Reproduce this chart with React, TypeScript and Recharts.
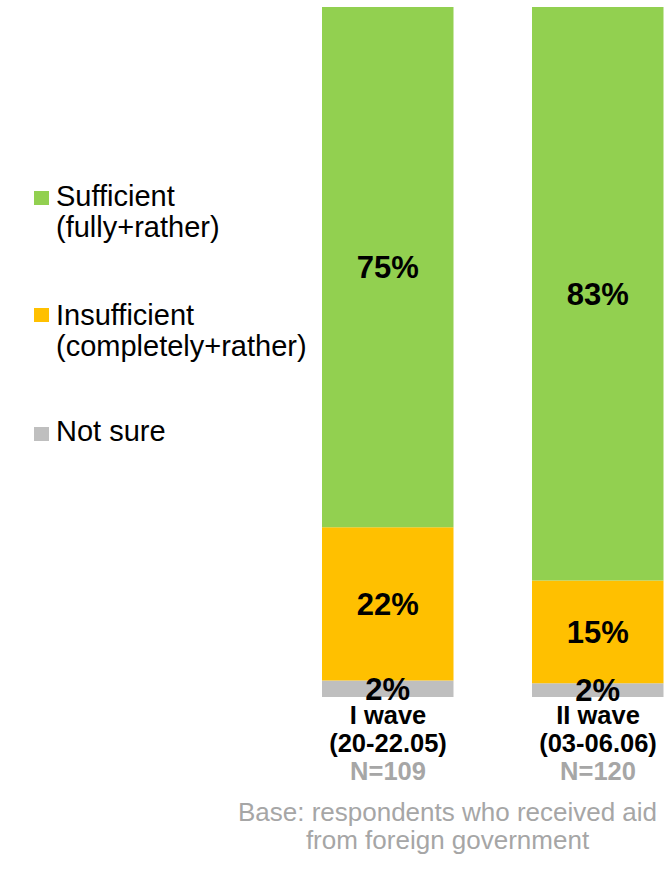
import React from 'react';
import { BarChart, Bar, XAxis, YAxis, Legend, LabelList } from 'recharts';

const waves = ['I wave', 'II wave'];
const waveDates = ['(20-22.05)', '(03-06.06)'];
const waveN = ['N=109', 'N=120'];
const sufficient = [75.4, 83.1];
const insufficient = [22.2, 14.9];
const notSure = [2.4, 2.0];
const legendLabels = [
  ['Sufficient', '(fully+rather)'],
  ['Insufficient', '(completely+rather)'],
  ['Not sure'],
];
const colors = ['#92D050', '#FFC000', '#BFBFBF'];
const footerLines = ['Base: respondents who received aid', 'from foreign government'];

const data = waves.map((w, i) => ({
  wave: w,
  dates: waveDates[i],
  n: waveN[i],
  sufficient: sufficient[i],
  insufficient: insufficient[i],
  notSure: notSure[i],
}));

const FONT = '"Liberation Sans", Arial, sans-serif';

const WaveTick = (props: any) => {
  const { x, y, payload, index } = props;
  const i = typeof index === 'number' ? index : waves.indexOf(payload.value);
  return (
    <g transform={`translate(${x},${y})`}>
      <text x={0} y={27} textAnchor="middle" fontFamily={FONT} fontWeight="bold" fontSize={25.5} fill="#000">
        {payload.value}
      </text>
      <text x={0} y={55} textAnchor="middle" fontFamily={FONT} fontWeight="bold" fontSize={25.5} fill="#000">
        {waveDates[i]}
      </text>
      <text x={0} y={83} textAnchor="middle" fontFamily={FONT} fontWeight="bold" fontSize={25.5} fill="#A6A6A6">
        {waveN[i]}
      </text>
    </g>
  );
};

const ValueLabel = (props: any) => {
  const { x, y, width, height, value } = props;
  const cx = Number(x) + Number(width) / 2;
  const cy = Number(y) + Number(height) / 2;
  return (
    <text
      x={cx}
      y={cy + 11}
      textAnchor="middle"
      fontFamily={FONT}
      fontWeight="bold"
      fontSize={31}
      fill="#000"
    >
      {`${Math.round(Number(value))}%`}
    </text>
  );
};

const legendTops = [181.2, 299.5, 416.2];
const squareTops = [190.7, 308.3, 426.7];

const LegendContent = () => (
  <div style={{ position: 'relative', width: 340, height: 470 }}>
    {legendLabels.map((lines, k) => (
      <React.Fragment key={k}>
        <div
          style={{
            position: 'absolute',
            left: 34,
            top: squareTops[k],
            width: 15,
            height: 14,
            background: colors[k],
          }}
        />
        <div
          style={{
            position: 'absolute',
            left: 56,
            top: legendTops[k],
            fontFamily: FONT,
            fontSize: 29,
            lineHeight: '31px',
            color: '#000',
            whiteSpace: 'nowrap',
          }}
        >
          {lines.map((l, j) => (
            <div key={j}>{l}</div>
          ))}
        </div>
      </React.Fragment>
    ))}
  </div>
);

export default function App() {
  return (
    <div
      style={{
        position: 'absolute',
        left: 0,
        top: 0,
        width: 667,
        height: 871,
        overflow: 'hidden',
        background: '#fff',
      }}
    >
      <BarChart
        width={703}
        height={871}
        data={data}
        margin={{ top: 7, right: 0, bottom: 74, left: 283 }}
        barSize={131.5}
      >
        <XAxis
          dataKey="wave"
          axisLine={false}
          tickLine={false}
          tickSize={0}
          tickMargin={0}
          height={100}
          interval={0}
          tick={<WaveTick />}
        />
        <YAxis hide domain={[0, 100]} />
        <Legend
          layout="horizontal"
          verticalAlign="middle"
          align="center"
          wrapperStyle={{ position: 'absolute', left: 0, top: 0, width: 340, height: 470, margin: 0 }}
          content={<LegendContent />}
        />
        <Bar dataKey="notSure" stackId="a" fill={colors[2]} isAnimationActive={false}>
          <LabelList dataKey="notSure" content={<ValueLabel />} />
        </Bar>
        <Bar dataKey="insufficient" stackId="a" fill={colors[1]} isAnimationActive={false}>
          <LabelList dataKey="insufficient" content={<ValueLabel />} />
        </Bar>
        <Bar dataKey="sufficient" stackId="a" fill={colors[0]} isAnimationActive={false}>
          <LabelList dataKey="sufficient" content={<ValueLabel />} />
        </Bar>
      </BarChart>
      <div
        style={{
          position: 'absolute',
          left: 447.5 - 260,
          top: 798,
          width: 520,
          textAlign: 'center',
          fontFamily: FONT,
          fontSize: 26,
          lineHeight: '28px',
          color: '#A6A6A6',
          whiteSpace: 'nowrap',
        }}
      >
        {footerLines.map((l, j) => (
          <div key={j}>{l}</div>
        ))}
      </div>
    </div>
  );
}
